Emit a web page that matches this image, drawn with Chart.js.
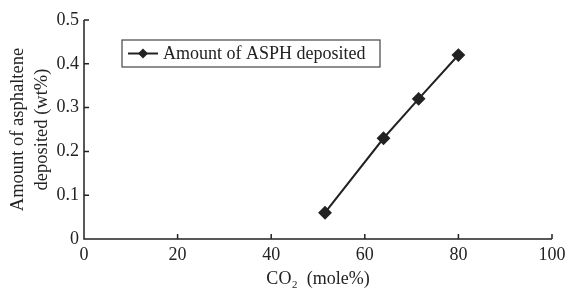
<!DOCTYPE html>
<html>
<head>
<meta charset="utf-8">
<script src="https://cdn.jsdelivr.net/npm/chart.js@4.4.0/dist/chart.umd.min.js"></script>
<style>
  body { margin: 0; background: #fff; }
  #wrap { width: 568px; height: 290px; }
</style>
</head>
<body>
<div id="wrap"><canvas id="myChart"></canvas></div>
<script>
const co2 = [51.5, 64, 71.5, 80]
const asph = [0.06, 0.23, 0.32, 0.42]
const seriesName = 'Amount of ASPH deposited'
const xTicks = [0, 20, 40, 60, 80, 100]
const yTicks = [0, 0.1, 0.2, 0.3, 0.4, 0.5]
const xTitle = 'CO\u2082\u2002(mole%)'
const yTitle = ['Amount of asphaltene', 'deposited (wt%)']

const ink = '#222'
const serif = "'Liberation Serif', 'Times New Roman', serif"

const ctx = document.getElementById('myChart')

// inward tick marks + boxed legend inside the plot
const decor = {
    id: 'decor',
    afterDraw(chart) {
        const c = chart.ctx
        const xs = chart.scales.x
        const ys = chart.scales.y
        const area = chart.chartArea
        c.save()
        c.strokeStyle = ink
        c.lineWidth = 1.5
        c.beginPath()
        c.moveTo(area.left, area.top)
        c.lineTo(area.left, area.bottom)
        c.lineTo(area.right, area.bottom)
        for (let v of xTicks) {
            const px = xs.getPixelForValue(v)
            c.moveTo(px, area.bottom)
            c.lineTo(px, area.bottom - 5)
        }
        for (let v of yTicks) {
            const py = ys.getPixelForValue(v)
            c.moveTo(area.left, py)
            c.lineTo(area.left + 5, py)
        }
        c.stroke()

        // legend box
        const bx = area.left + 38, by = area.top + 20, bw = 258, bh = 27
        c.lineWidth = 1.2
        c.strokeStyle = '#444'
        c.strokeRect(bx, by, bw, bh)
        const my = by + bh / 2
        c.strokeStyle = ink
        c.lineWidth = 2
        c.beginPath()
        c.moveTo(bx + 6, my)
        c.lineTo(bx + 36, my)
        c.stroke()
        c.fillStyle = ink
        c.beginPath()
        c.moveTo(bx + 21, my - 5)
        c.lineTo(bx + 26, my)
        c.lineTo(bx + 21, my + 5)
        c.lineTo(bx + 16, my)
        c.closePath()
        c.fill()
        c.font = '18px ' + serif
        c.textBaseline = 'middle'
        c.fillText(seriesName, bx + 41, my + 1)
        c.restore()
    }
}

new Chart(ctx, {
    type: 'scatter',
    data: {
        datasets: [{
            label: seriesName,
            data: co2.map((x, i) => ({ x: x, y: asph[i] })),
            showLine: true,
            borderColor: ink,
            backgroundColor: ink,
            borderWidth: 2,
            pointStyle: 'rectRot',
            pointRadius: 5.5,
            pointHoverRadius: 5.5
        }]
    },
    options: {
        responsive: true,
        maintainAspectRatio: false,
        animation: false,
        layout: { padding: { top: 20, right: 16, left: 0, bottom: 0 } },
        plugins: {
            legend: { display: false },
            tooltip: { enabled: false }
        },
        scales: {
            x: {
                type: 'linear',
                min: 0,
                max: 100,
                afterBuildTicks: (s) => { s.ticks = xTicks.map(v => ({ value: v })) },
                afterFit: (s) => { s.height = 51; s.paddingRight = 0; s.paddingLeft = 0 },
                grid: { display: false, drawTicks: false },
                border: { display: false },
                ticks: {
                    color: ink,
                    padding: 5,
                    font: { family: serif, size: 18 },
                    maxRotation: 0
                },
                title: {
                    display: true,
                    text: xTitle,
                    color: ink,
                    padding: { top: 2, bottom: 0 },
                    font: { family: serif, size: 18 }
                }
            },
            y: {
                type: 'linear',
                min: 0,
                max: 0.5,
                afterBuildTicks: (s) => { s.ticks = yTicks.map(v => ({ value: v })) },
                afterFit: (s) => { s.width = 84 },
                grid: { display: false, drawTicks: false },
                border: { display: false },
                ticks: {
                    color: ink,
                    padding: 5,
                    font: { family: serif, size: 18 },
                    callback: (v) => String(v)
                },
                title: {
                    display: true,
                    text: yTitle,
                    color: ink,
                    padding: { top: 6, bottom: 0 },
                    font: { family: serif, size: 18.5, lineHeight: 1.3 }
                }
            }
        }
    },
    plugins: [decor]
});
</script>
</body>
</html>
